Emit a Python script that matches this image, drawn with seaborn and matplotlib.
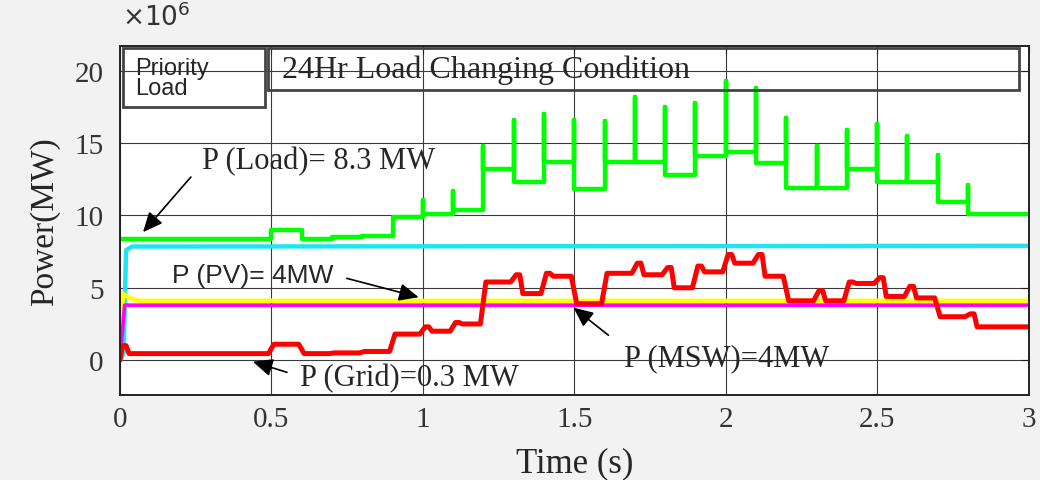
import numpy as np
import pandas as pd
import matplotlib
matplotlib.use("Agg")
import matplotlib.pyplot as plt
from matplotlib.patches import Rectangle
import seaborn as sns

# step times (s) - load changes every 0.1 s
step_t = [round(0.1 * i, 1) for i in range(30)]

# load power level in each 0.1 s interval (MW)
load_level = [8.4, 8.4, 8.4, 8.4, 8.4, 9.0, 8.4, 8.5, 8.6, 9.9,
              10.1, 10.4, 13.2, 12.3, 13.7, 11.8, 13.7, 13.7, 12.8, 14.1,
              14.4, 13.6, 11.9, 11.9, 13.2, 12.3, 12.3, 10.9, 10.1, 10.1]
# transient spike at the start of each interval (MW)
load_spike = [8.4, 8.4, 8.4, 8.4, 8.4, 9.0, 8.4, 8.5, 8.6, 9.9,
              11.1, 11.7, 14.8, 16.6, 17.0, 16.6, 16.5, 18.2, 17.5, 17.8,
              19.3, 18.8, 16.7, 14.8, 15.9, 16.3, 15.5, 14.2, 12.1, 10.1]

# grid power level in each interval (MW)
grid_level = [0.45, 0.45, 0.45, 0.45, 0.45, 1.1, 0.45, 0.5, 0.6, 1.8,
              2.0, 2.5, 5.4, 4.6, 5.8, 3.9, 6.0, 5.9, 5.0, 6.1,
              6.7, 5.8, 4.1, 4.1, 5.3, 4.4, 4.3, 3.0, 2.3, 2.3]
grid_bump = [1.0, 0.45, 0.45, 0.45, 0.45, 1.1, 0.45, 0.5, 0.6, 1.8,
             2.3, 2.6, 5.4, 5.9, 6.0, 3.9, 6.0, 6.7, 6.4, 6.5,
             7.3, 7.3, 4.1, 4.8, 5.4, 5.7, 5.1, 3.0, 3.2, 2.3]

# PV, MSW and priority load (MW)
pv_t = [0.0, 0.01, 0.03, 0.06, 3.0]
pv_p = [0.0, 4.6, 4.3, 4.1, 4.1]
msw_t = [0.0, 0.015, 3.0]
msw_p = [0.0, 3.8, 3.8]
prio_t = [0.0, 0.012, 0.02, 0.04, 3.0]
prio_p = [0.0, 0.5, 7.6, 7.85, 7.9]

SCALE = 1e6


def build_load():
    t, p = [0.0], [load_level[0]]
    for i, t0 in enumerate(step_t):
        prev = load_level[i - 1] if i > 0 else load_level[0]
        t += [t0, t0, t0]
        p += [prev, load_spike[i], load_level[i]]
    t.append(3.0)
    p.append(load_level[-1])
    return np.array(t), np.array(p)


def build_grid():
    t, p = [0.0], [0.0]
    for i, t0 in enumerate(step_t):
        t += [t0 + 0.008, t0 + 0.02, t0 + 0.03]
        p += [grid_bump[i], grid_bump[i], grid_level[i]]
        t.append(t0 + 0.09)
        p.append(grid_level[i])
    t.append(3.0)
    p.append(grid_level[-1])
    return np.array(t), np.array(p)


sns.set_theme(style="white")
plt.rcParams["font.family"] = ["Liberation Serif", "DejaVu Serif"]

fig = plt.figure(figsize=(10.4, 4.81), dpi=100, facecolor="#f2f2f2")
ax = fig.add_axes([0.1154, 0.177, 0.8736, 0.725])
ax.set_facecolor("white")

lt, lp = build_load()
gt, gp = build_grid()

lw = 3.2
sns.lineplot(x=prio_t, y=np.array(prio_p) * SCALE, ax=ax, color="#1ee6f0", lw=lw,
             estimator=None, sort=False)
sns.lineplot(x=pv_t, y=np.array(pv_p) * SCALE, ax=ax, color="#ffff00", lw=lw,
             estimator=None, sort=False)
sns.lineplot(x=msw_t, y=np.array(msw_p) * SCALE, ax=ax, color="#ff00ff", lw=2.6,
             estimator=None, sort=False)
sns.lineplot(x=lt, y=lp * SCALE, ax=ax, color="#00ff00", lw=lw,
             estimator=None, sort=False)
sns.lineplot(x=gt, y=gp * SCALE, ax=ax, color="#ff0000", lw=3.6,
             estimator=None, sort=False)

ax.set_xlim(0, 3)
ax.set_ylim(-2.4e6, 21.7e6)
ax.set_xticks([0, 0.5, 1, 1.5, 2, 2.5, 3])
ax.set_xticklabels(["0", "0.5", "1", "1.5", "2", "2.5", "3"])
ax.set_yticks([0, 5e6, 10e6, 15e6, 20e6])
ax.set_yticklabels(["0", "5", "10", "15", "20"])
ax.grid(True, color="#3a3a3a", lw=0.8)
ax.tick_params(direction="in", length=6, width=0.8, labelsize=21, pad=8,
               top=True, right=True, colors="#222222", labelcolor="#333333")
ax.tick_params(axis="y", pad=12)
for s in ax.spines.values():
    s.set_color("#222222")
    s.set_linewidth(1.4)

ax.set_xlabel("Time (s)", fontsize=25, labelpad=10)
ax.set_ylabel("Power(MW)", fontsize=24, labelpad=10)
fig.text(0.117, 0.935, r"$\times10^6$", fontsize=19, color="#333333",
         ha="left", va="bottom", family="DejaVu Serif")

# info boxes
ax.add_patch(Rectangle((0.01, 17.5e6), 0.47, 4.1e6, fill=False,
                       ec="#444444", lw=2, zorder=5))
ax.text(0.05, 19.5e6, "Priority\nLoad", fontsize=17, family="Liberation Sans",
        va="center", ha="left", linespacing=0.9, zorder=6)
ax.add_patch(Rectangle((0.49, 18.7e6), 2.48, 2.85e6, fill=False,
                       ec="#444444", lw=2, zorder=5))
ax.text(0.535, 20.1e6, "24Hr Load Changing Condition", fontsize=23,
        va="center", ha="left", zorder=6)

arrow = dict(arrowstyle="-|>,head_length=1.0,head_width=0.45", color="black", lw=1.2)
ax.text(0.27, 13.8e6, "P (Load)= 8.3 MW", fontsize=22, va="center", ha="left")
ax.annotate("", xy=(0.07, 8.7e6), xytext=(0.24, 12.8e6), arrowprops=arrow)
ax.text(0.17, 5.85e6, "P (PV)= 4MW", fontsize=19, family="Liberation Sans",
        va="center", ha="left")
ax.annotate("", xy=(0.995, 4.3e6), xytext=(0.74, 5.7e6), arrowprops=arrow)
ax.text(0.595, -1.2e6, "P (Grid)=0.3 MW", fontsize=22, va="center", ha="left")
ax.annotate("", xy=(0.43, -0.05e6), xytext=(0.56, -0.9e6), arrowprops=arrow)
ax.text(1.665, 0.2e6, "P (MSW)=4MW", fontsize=22, va="center", ha="left")
ax.annotate("", xy=(1.49, 3.75e6), xytext=(1.62, 1.6e6), arrowprops=arrow)

fig.savefig("out.png", dpi=100, facecolor=fig.get_facecolor())
